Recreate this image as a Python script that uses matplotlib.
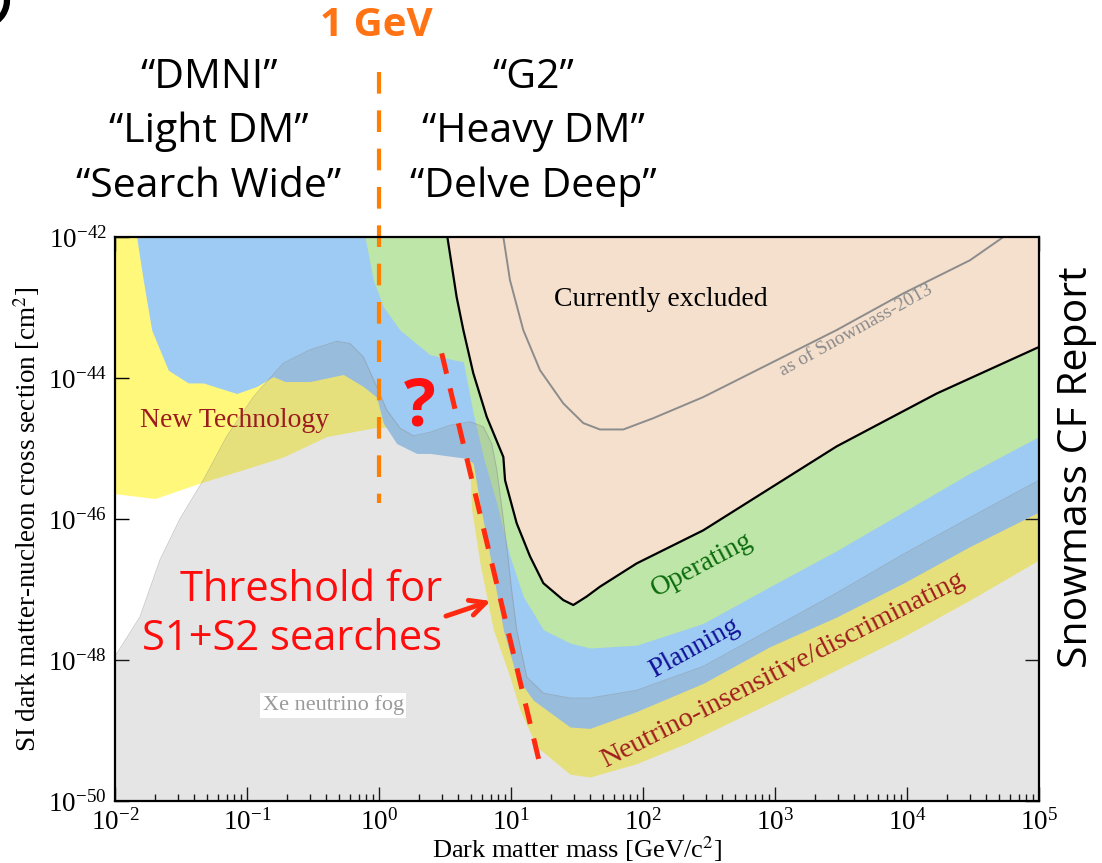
import numpy as np
import matplotlib
matplotlib.use("Agg")
import matplotlib.pyplot as plt
from matplotlib.ticker import NullLocator, LogLocator
from matplotlib.patches import Arc

# values, as log10(mass / GeV) and log10(sigma / cm^2)
yellow_lo_logm = [-2.0, -1.697, -1.356, -1.028, -0.725, -0.396, -0.018, 0.05, 0.3, 0.6, 0.685,
                  0.702, 0.765, 0.866, 0.992, 1.068, 1.195, 1.447, 1.598, 1.952, 2.331, 2.962,
                  3.467, 3.972, 4.477, 5.0]
yellow_lo_logs = [-45.64, -45.71, -45.49, -45.30, -45.12, -44.83, -44.70, -44.70, -44.85, -44.95, -45.16,
                  -45.87, -46.63, -47.57, -48.24, -48.71, -49.23, -49.62, -49.66, -49.47, -49.18, -48.61,
                  -48.14, -47.67, -47.15, -46.58]

blue_lo_logm = [-1.836, -1.786, -1.722, -1.596, -1.445, -1.331, -1.078, -0.927, -0.801, -0.712, -0.523,
                -0.270, -0.119, -0.018, 0.033, 0.134, 0.286, 0.386, 0.664, 0.714, 0.765, 0.841, 0.942,
                1.043, 1.169, 1.447, 1.598, 1.952, 2.457, 2.962, 3.467, 3.972, 4.477, 5.0]
blue_lo_logs = [-42.0, -42.61, -43.32, -43.89, -44.07, -44.07, -44.22, -44.12, -43.98, -44.05, -44.05,
                -43.95, -44.12, -44.27, -44.64, -44.93, -45.07, -45.07, -45.14, -45.21, -45.78, -46.53, -47.57,
                -48.24, -48.57, -48.95, -48.97, -48.73, -48.33, -47.81, -47.39, -46.91, -46.39, -45.90]

green_lo_logm = [-0.106, -0.043, 0.033, 0.159, 0.386, 0.639, 0.714, 0.790, 0.892, 0.992, 1.093, 1.245,
                 1.447, 1.598, 1.952, 2.457, 2.962, 3.467, 3.972, 4.477, 5.0]
green_lo_logs = [-42.0, -42.61, -42.99, -43.32, -43.67, -43.77, -44.50, -45.12, -45.78, -46.53, -47.10, -47.57,
                 -47.76, -47.83, -47.79, -47.48, -46.96, -46.45, -45.90, -45.35, -44.83]

excl_logm = [0.518, 0.588, 0.639, 0.714, 0.816, 0.942, 0.955, 1.043, 1.144, 1.245, 1.396, 1.472, 1.573,
             1.674, 1.952, 2.457, 3.467, 4.225, 5.0]
excl_logs = [-42.0, -42.85, -43.32, -43.93, -44.55, -45.12, -45.45, -46.06, -46.53, -46.91, -47.15, -47.22,
             -47.10, -46.96, -46.63, -46.16, -44.97, -44.22, -43.56]

snow_logm = [0.942, 0.992, 1.093, 1.220, 1.396, 1.548, 1.674, 1.851, 2.078, 2.457, 2.861, 3.467, 3.972,
             4.477, 4.73]
snow_logs = [-42.0, -42.61, -43.32, -43.89, -44.36, -44.64, -44.73, -44.73, -44.57, -44.27, -43.89, -43.32,
             -42.80, -42.33, -42.0]

fog_logm = [-2.0, -1.811, -1.659, -1.508, -1.331, -1.154, -0.952, -0.725, -0.523, -0.320, -0.220, -0.119,
            -0.018, 0.058, 0.159, 0.260, 0.386, 0.538, 0.689, 0.790, 0.854, 0.892, 0.930, 0.967, 1.005,
            1.043, 1.119, 1.245, 1.447, 1.598, 1.952, 2.457, 2.962, 3.467, 3.972, 4.477, 5.0]
fog_logs = [-47.95, -47.39, -46.58, -46.0, -45.45, -44.83, -44.27, -43.79, -43.60, -43.48, -43.51, -43.70,
            -44.12, -44.45, -44.71, -44.82, -44.77, -44.67, -44.62, -44.69, -44.93, -45.30, -45.83, -46.39,
            -47.01, -47.57, -48.24, -48.47, -48.54, -48.54, -48.43, -48.09, -47.57, -47.05, -46.5, -45.98, -45.45]

threshold_logm = [0.475, 1.22]
threshold_logs = [-43.65, -49.49]

gev_line_m = [1.0, 1.0]
gev_line_logs = [-39.66, -45.77]

left_labels = ["\u201cDMNI\u201d", "\u201cLight DM\u201d", "\u201cSearch Wide\u201d"]
right_labels = ["\u201cG2\u201d", "\u201cHeavy DM\u201d", "\u201cDelve Deep\u201d"]


def p(a):
    return 10.0 ** np.array(a)


plt.rcParams["font.family"] = "serif"
plt.rcParams["font.serif"] = ["Liberation Serif", "DejaVu Serif"]
plt.rcParams["mathtext.fontset"] = "stix"
sans = ["Open Sans", "DejaVu Sans"]

fig = plt.figure(figsize=(11.02, 8.63), dpi=100)
ax = fig.add_axes([115 / 1102, 62 / 863, 924 / 1102, 564 / 863])
ax.set_xscale("log")
ax.set_yscale("log")
ax.set_xlim(1e-2, 1e5)
ax.set_ylim(1e-50, 1e-42)

top = 1e-42
ax.fill_between(p(yellow_lo_logm), p(yellow_lo_logs), top, color="#fff87a", lw=0, zorder=1)
ax.fill_between(p(blue_lo_logm), p(blue_lo_logs), top, color="#9ecbf3", lw=0, zorder=2)
ax.fill_between(p(green_lo_logm), p(green_lo_logs), top, color="#bde6a8", lw=0, zorder=3)
ax.fill_between(p(excl_logm), p(excl_logs), top, color="#f5e0cd", lw=0, zorder=4)
ax.plot(p(excl_logm), p(excl_logs), color="black", lw=1.6, zorder=4.5)
ax.plot(p(snow_logm), p(snow_logs), color="#8c8c8c", lw=1.4, zorder=4.6)

# neutrino fog drawn on top, semi transparent
ax.fill_between(p(fog_logm), p(fog_logs), 1e-50, color="0.5", alpha=0.2, lw=0, zorder=5)
ax.plot(p(fog_logm), p(fog_logs), color="0.55", lw=0.7, alpha=0.45, zorder=5.1)

# threshold and 1 GeV lines
ax.plot(p(threshold_logm), p(threshold_logs), color="#ff2a10", lw=3.6, dashes=(4.2, 3.0),
        zorder=6, solid_capstyle="butt")
ax.plot(gev_line_m, p(gev_line_logs), color="#ff8000", lw=3.0, dashes=(5.2, 4.0), zorder=6,
        clip_on=False)

# axes styling
ax.yaxis.set_major_locator(LogLocator(base=100.0, numticks=10))
ax.yaxis.set_minor_locator(NullLocator())
ax.xaxis.set_major_locator(LogLocator(base=10.0, numticks=20))
ax.xaxis.set_minor_locator(LogLocator(base=10.0, subs=np.arange(2, 10), numticks=100))
ax.tick_params(which="both", direction="in", top=True, right=True, width=1.0, labelsize=19.5)
ax.tick_params(axis="x", pad=6)
ax.tick_params(axis="y", pad=6)
ax.tick_params(which="major", length=10)
ax.tick_params(which="minor", length=5)
for s in ax.spines.values():
    s.set_linewidth(1.6)
    s.set_zorder(10)
ax.set_xlabel("Dark matter mass [GeV/c$^2$]", fontsize=19, labelpad=-1)
ax.set_ylabel("SI dark matter-nucleon cross section [cm$^2$]", fontsize=19.5, labelpad=4)

# labels inside the plot
ax.text(10 ** 2.136, 10 ** -42.88, "Currently excluded", fontsize=20, ha="center", va="center", zorder=7)
ax.text(10 ** 3.614, 10 ** -43.32, "as of Snowmass-2013", fontsize=14, color="#8c8c8c",
        rotation=29, ha="center", va="center", zorder=7)
ax.text(10 ** -1.098, 10 ** -44.60, "New Technology", fontsize=20, color="#9b1b1f",
        ha="center", va="center", zorder=7)
ax.text(10 ** -0.348, 10 ** -48.64, "Xe neutrino fog", fontsize=16, color="#9a9a9a",
        ha="center", va="center", zorder=7,
        bbox=dict(facecolor="white", edgecolor="none", pad=2))
ax.text(10 ** 2.447, 10 ** -46.65, "Operating", fontsize=20, color="#0b6b0b", rotation=28,
        ha="center", va="center", zorder=7)
ax.text(10 ** 2.386, 10 ** -47.83, "Planning", fontsize=20, color="#10109a", rotation=29,
        ha="center", va="center", zorder=7)
ax.text(10 ** 3.06, 10 ** -48.14, "Neutrino-insensitive/discriminating", fontsize=20.5, color="#a01c1c",
        rotation=27, ha="center", va="center", zorder=7)

ax.text(10 ** 0.311, 10 ** -44.43, "?", fontsize=48, fontweight="bold", color="#ff1010",
        family=sans, ha="center", va="center", zorder=7)
ax.text(10 ** 0.477, 10 ** -47.36, "Threshold for\nS1+S2 searches", fontsize=30, color="#ff0d0d",
        family=sans, ha="right", va="center", multialignment="right", linespacing=1.22, zorder=7)
ax.annotate("", xy=(10 ** 0.866, 10 ** -47.15), xytext=(10 ** 0.487, 10 ** -47.39),
            arrowprops=dict(arrowstyle="->", color="#ff2a10", lw=3.5, mutation_scale=28), zorder=7)

# text above the plot
fig.text(376 / 1102, 1 - 26 / 863, "1 GeV", fontsize=29, fontweight="bold", color="#ff7314",
         family=sans, ha="center", va="center")
for i, (l, r) in enumerate(zip(left_labels, right_labels)):
    yb = 1 - (88 + 54.5 * i) / 863
    fig.text(209 / 1102, yb, l, fontsize=29.5, family=sans, ha="center", va="baseline")
    fig.text(533 / 1102, yb, r, fontsize=29.5, family=sans, ha="center", va="baseline")
fig.text(1077 / 1102, 1 - 467 / 863, "Snowmass CF Report", fontsize=29.5, family=sans,
         rotation=90, ha="center", va="center")

# cropped slide decoration in the corner
fig.add_artist(Arc((-16 / 1102, 1.0), 46 / 1102, 50 / 863, theta1=-80, theta2=10, lw=4.5,
                   color="black", transform=fig.transFigure))

fig.savefig("out.png", dpi=100)
